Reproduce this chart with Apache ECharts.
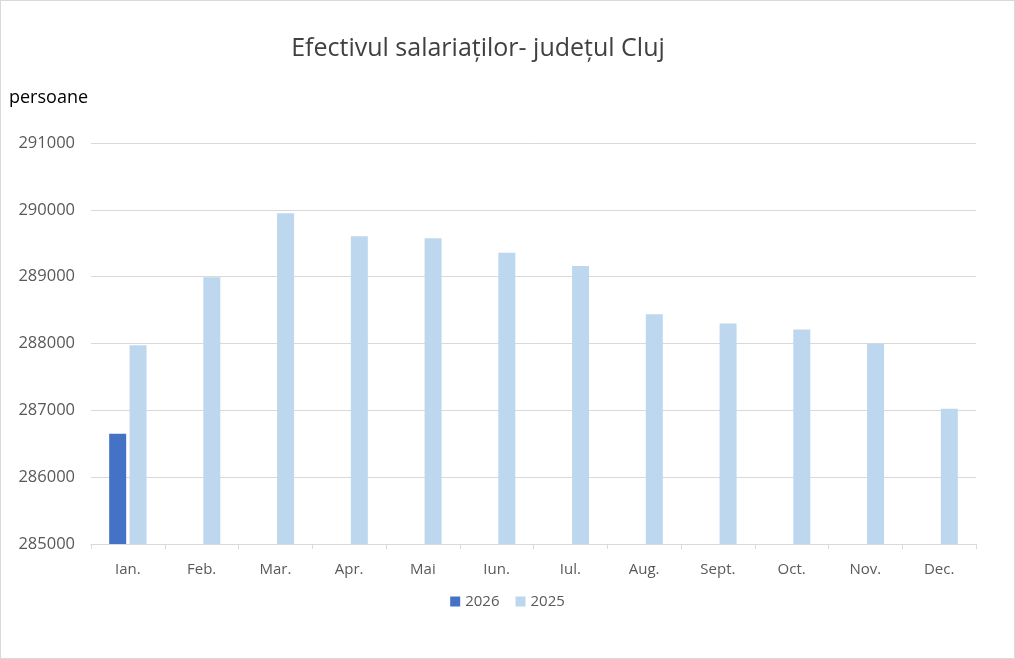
<!DOCTYPE html>
<html>
<head>
<meta charset="utf-8">
<script src="https://cdn.jsdelivr.net/npm/echarts@6/dist/echarts.min.js"></script>
<style>
html,body{margin:0;padding:0;background:#fff;}
#c{width:1013px;height:657px;border:1px solid #d9d9d9;}
</style>
</head>
<body>
<div id="c"></div>
<script>
const categories = ['Ian.', 'Feb.', 'Mar.', 'Apr.', 'Mai', 'Iun.', 'Iul.', 'Aug.', 'Sept.', 'Oct.', 'Nov.', 'Dec.'];
const values2026 = [286650, null, null, null, null, null, null, null, null, null, null, null];
const values2025 = [287973, 288993, 289950, 289604, 289574, 289356, 289161, 288436, 288300, 288210, 287995, 287025];
const yMin = 285000, yMax = 291000, yStep = 1000;

const font = '"Open Sans", "Noto Sans", sans-serif';
const chart = echarts.init(document.getElementById('c'), null, {renderer: 'canvas'});
chart.setOption({
  animation: false,
  title: {
    text: 'Efectivul salariaților- județul Cluj',
    left: 472, top: 30, textAlign: 'center',
    textStyle: {fontFamily: font, fontSize: 25, fontWeight: 'normal', color: '#404040'}
  },
  legend: {
    bottom: 44, left: 'center',
    itemWidth: 10, itemHeight: 10, itemGap: 16,
    icon: 'rect',
    textStyle: {fontFamily: font, fontSize: 15, color: '#595959'},
    data: ['2026', '2025']
  },
  grid: {left: 90, right: 38, top: 142, bottom: 114, containLabel: false},
  xAxis: {
    type: 'category',
    data: categories,
    axisLine: {lineStyle: {color: '#d9d9d9', width: 1}},
    axisTick: {show: true, alignWithLabel: false, length: 5, lineStyle: {color: '#d9d9d9'}},
    axisLabel: {fontFamily: font, fontSize: 15, color: '#595959', margin: 18}
  },
  yAxis: {
    type: 'value',
    min: yMin, max: yMax, interval: yStep,
    name: 'persoane',
    nameLocation: 'end',
    nameGap: 36,
    nameTextStyle: {fontFamily: font, fontSize: 18, color: '#000', align: 'left', padding: [0, 0, 0, -82]},
    axisLine: {show: false},
    axisTick: {show: false},
    splitLine: {lineStyle: {color: '#d9d9d9', width: 1}},
    axisLabel: {fontFamily: font, fontSize: 16.5, color: '#595959', margin: 16,
      formatter: v => String(v)}
  },
  series: [
    {name: '2026', type: 'bar', data: values2026, barWidth: 17, barGap: '20%',
     itemStyle: {color: '#4472c4'}},
    {name: '2025', type: 'bar', data: values2025, barWidth: 17,
     itemStyle: {color: '#bdd7ee'}}
  ]
});
</script>
</body>
</html>
